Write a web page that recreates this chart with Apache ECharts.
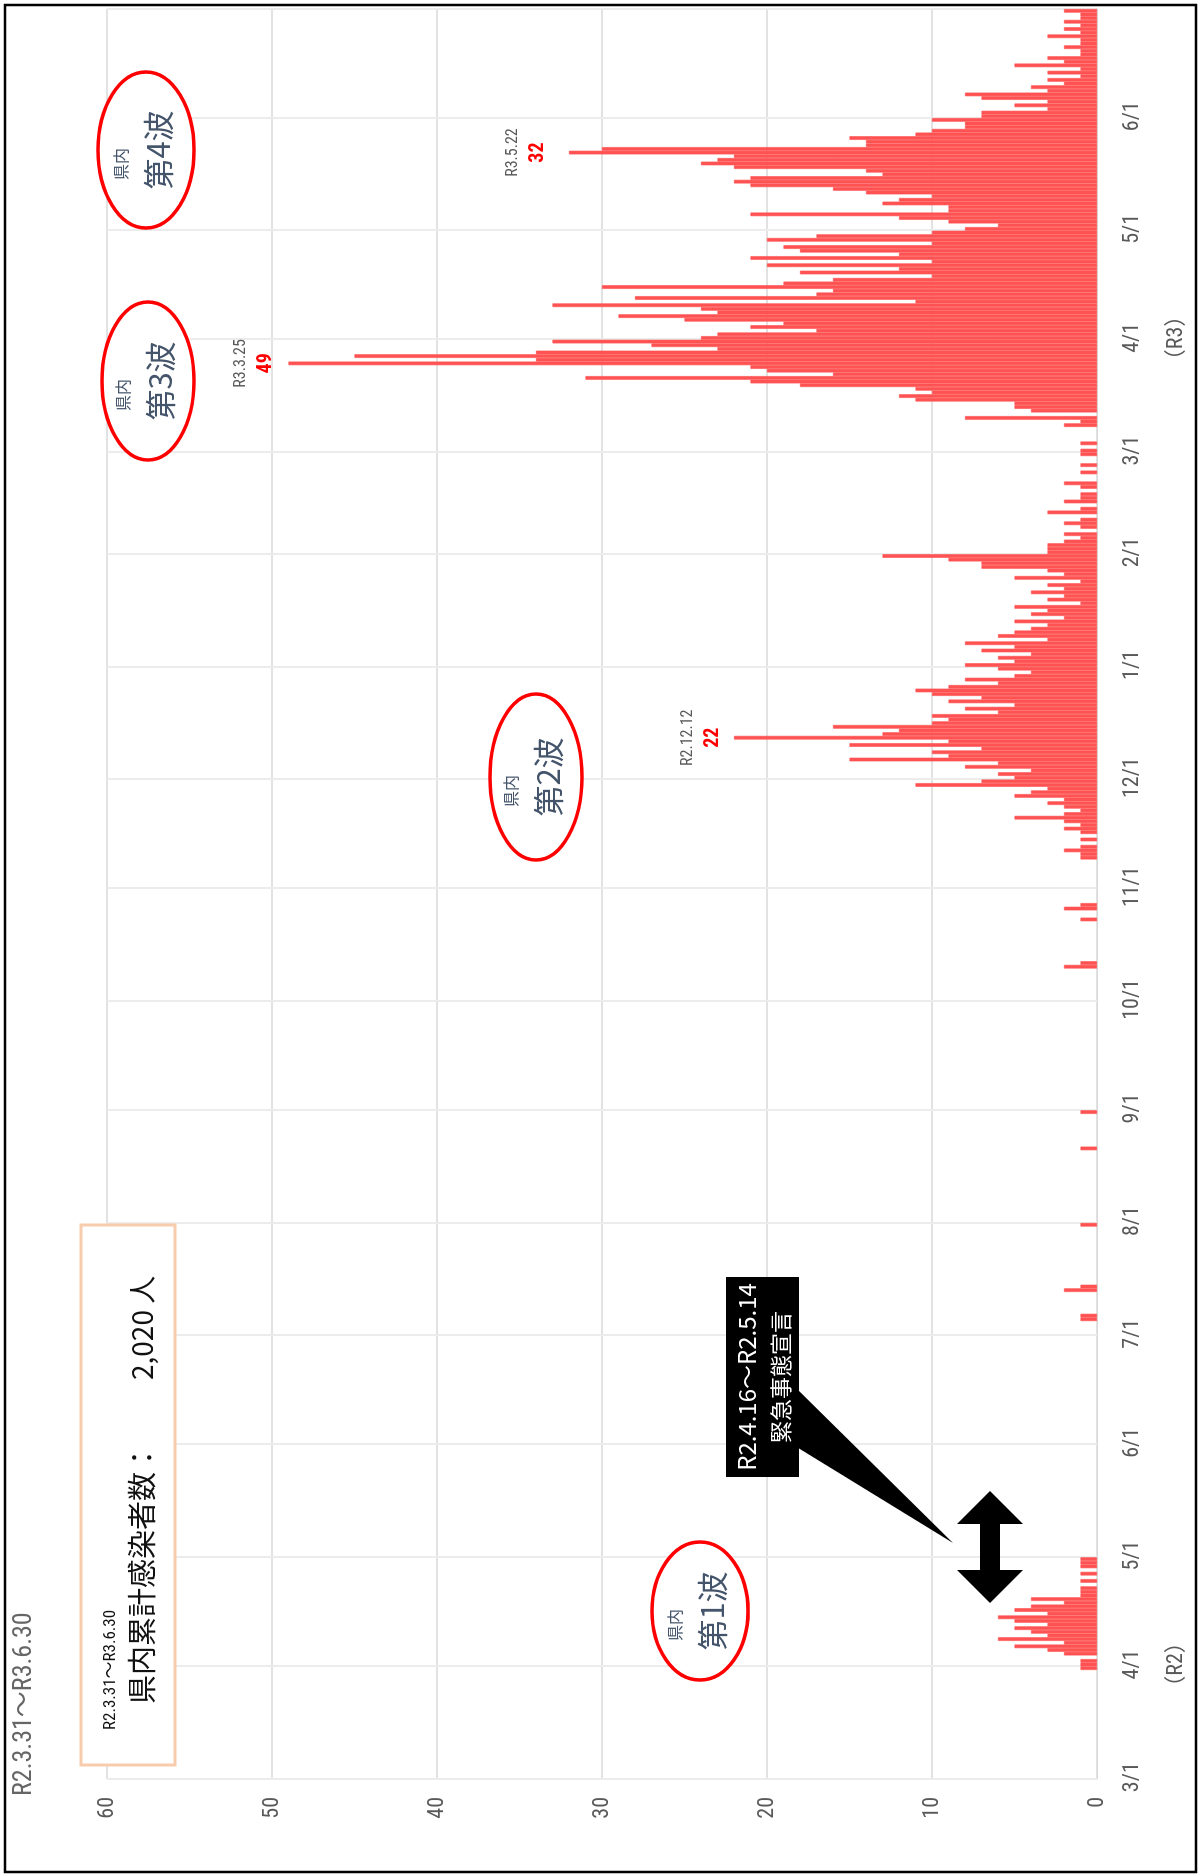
<!DOCTYPE html>
<html><head><meta charset="utf-8">
<script src="https://cdn.jsdelivr.net/npm/echarts/dist/echarts.min.js"></script>
<style>
html,body{margin:0;padding:0;width:1202px;height:1876px;overflow:hidden;background:#fff;}
#chart{position:absolute;left:0;top:0;width:1876px;height:1202px;transform-origin:0 0;transform:translateY(1876px) rotate(-90deg);}
</style></head><body><div id="chart"></div>
<script>
// daily new cases (prefecture), one array per month
const mar20 = [0,0,0,0,0,0,0,0,0,0,0,0,0,0,0,0,0,0,0,0,0,0,0,0,0,0,0,0,0,0,1];
const apr20 = [1,1,0,2,3,5,2,6,3,4,5,3,5,6,3,5,4,2,4,1,1,1,0,1,0,1,0,1,1,1];
const may20 = [0,0,0,0,0,0,0,0,0,0,0,0,0,0,0,0,0,0,0,0,0,0,0,0,0,0,0,0,0,0,0];
const jun20 = [0,0,0,0,0,0,0,0,0,0,0,0,0,0,0,0,0,0,0,0,0,0,0,0,0,0,0,0,0,0];
const jul20 = [0,0,0,0,1,1,0,0,0,0,0,0,2,1,0,0,0,0,0,0,0,0,0,0,0,0,0,0,0,0,1];
const aug20 = [0,0,0,0,0,0,0,0,0,0,0,0,0,0,0,0,0,0,0,0,1,0,0,0,0,0,0,0,0,0,1];
const sep20 = [0,0,0,0,0,0,0,0,0,0,0,0,0,0,0,0,0,0,0,0,0,0,0,0,0,0,0,0,0,0];
const oct20 = [0,0,0,0,0,0,0,0,0,2,1,0,0,0,0,0,0,0,0,0,0,0,1,0,0,2,1,0,0,0,0];
const nov20 = [0,0,0,0,0,0,0,0,1,1,2,1,0,1,0,1,2,1,2,5,2,1,2,3,2,5,4,3,11,7];
const dec20 = [5,6,4,8,6,15,9,10,7,15,9,22,13,12,16,10,9,10,6,8,5,9,7,10,11,9,6,8,5,4,6];
const jan21 = [8,5,6,4,7,5,8,3,6,5,4,3,5,2,4,3,5,1,3,2,4,2,3,1,5,2,3,7,7,9,13];
const feb21 = [3,3,3,2,1,2,0,1,2,1,0,3,1,0,2,1,1,0,1,2,0,0,1,0,1,0,0,1];
const mar21 = [1,0,1,0,0,0,0,2,1,8,0,4,5,5,11,12,10,11,18,21,31,16,20,21,49,34,45,34,23,27,33];
const apr21 = [24,23,17,21,19,25,29,23,24,33,11,28,17,16,30,19,16,10,18,12,20,10,21,12,18,19,10,20,17,10];
const may21 = [8,6,9,12,21,9,9,13,12,10,14,16,21,22,21,13,14,22,24,23,22,32,30,14,14,15,11,10,8,8,10];
const jun21 = [7,7,3,5,3,7,8,3,4,2,3,1,3,1,5,2,3,1,1,2,1,1,3,1,2,1,2,1,1,2];

const monthData = [
  ['2020-03', mar20], ['2020-04', apr20], ['2020-05', may20], ['2020-06', jun20],
  ['2020-07', jul20], ['2020-08', aug20], ['2020-09', sep20], ['2020-10', oct20],
  ['2020-11', nov20], ['2020-12', dec20], ['2021-01', jan21], ['2021-02', feb21],
  ['2021-03', mar21], ['2021-04', apr21], ['2021-05', may21], ['2021-06', jun21]
];

// peak annotations
const peakDates = ['2020-12-12', '2021-03-25', '2021-05-22'];
const peakTexts = ['R2.12.12', 'R3.3.25', 'R3.5.22'];
const peakDist  = [10, 12, 20];

const categories = [];
const values = [];
monthData.forEach(([ym, arr]) => {
  arr.forEach((v, i) => {
    categories.push(ym + '-' + String(i + 1).padStart(2, '0'));
    values.push(v);
  });
});

const NUM_FONT = "'Liberation Sans Narrow','Roboto Condensed','Roboto','Noto Sans CJK JP',sans-serif";
const JP_FONT = "'Noto Sans CJK JP','Noto Sans',sans-serif";
const BAR_COLOR = '#ff5252';

const seriesData = values.map((v, i) => {
  const k = peakDates.indexOf(categories[i]);
  if (v === 0) return { value: 0, itemStyle: { borderWidth: 0 } };
  if (k < 0) return v;
  return {
    value: v,
    label: {
      show: true, position: 'top', distance: peakDist[k],
      formatter: '{d|' + peakTexts[k] + '}\n{v|' + v + '}',
      rich: {
        d: { fontSize: 16, color: '#595959', lineHeight: 28, fontFamily: NUM_FONT, align: 'center' },
        v: { fontSize: 20, color: '#ff0000', fontWeight: 'bold', lineHeight: 22, fontFamily: NUM_FONT, align: 'center' }
      }
    }
  };
});

const isFirst = (i, v) => typeof v === 'string' ? v.endsWith('-01') : categories[i].endsWith('-01');

const chart = echarts.init(document.getElementById('chart'));

function ellipseGroup(cx, cy, rx, ry, n) {
  return [
    { type: 'ellipse', z: 50, shape: { cx: cx, cy: cy, rx: rx, ry: ry },
      style: { fill: '#ffffff', stroke: '#ff0000', lineWidth: 3.5 } },
    { type: 'text', z: 51, x: cx - 14, y: cy - 25,
      style: { text: '県内', fontSize: 16, fontFamily: JP_FONT, fill: '#44546a',
        textAlign: 'center', textVerticalAlign: 'middle', align: 'center', verticalAlign: 'middle' } },
    { type: 'text', z: 51, x: cx, y: cy + 12,
      style: { text: '第' + n + '波', fontSize: 31, fontFamily: JP_FONT, fill: '#44546a',
        textAlign: 'center', textVerticalAlign: 'middle', align: 'center', verticalAlign: 'middle' } }
  ];
}

const graphics = [
  { type: 'rect', z: 100, shape: { x: 4, y: 5, width: 1867, height: 1191 },
    style: { fill: 'none', stroke: '#000', lineWidth: 2.5 } },
  { type: 'text', z: 60, x: 80, y: 24,
    style: { text: 'R2.3.31～R3.6.30', fontSize: 26, fontFamily: NUM_FONT, fill: '#666666',
      textAlign: 'left', textVerticalAlign: 'middle', align: 'left', verticalAlign: 'middle' } },
  // cumulative box
  { type: 'rect', z: 60, shape: { x: 111, y: 81, width: 540, height: 94 },
    style: { fill: '#ffffff', stroke: '#f8cbad', lineWidth: 3 } },
  { type: 'text', z: 61, x: 146, y: 111,
    style: { text: 'R2.3.31～R3.6.30', fontSize: 17, fontFamily: NUM_FONT, fill: '#111',
      textAlign: 'left', textVerticalAlign: 'middle', align: 'left', verticalAlign: 'middle' } },
  { type: 'text', z: 61, x: 172, y: 142,
    style: { text: '県内累計感染者数：', fontSize: 29, fontFamily: JP_FONT, fill: '#111',
      textAlign: 'left', textVerticalAlign: 'middle', align: 'left', verticalAlign: 'middle' } },
  { type: 'text', z: 61, x: 496, y: 142,
    style: { text: '2,020 人', fontSize: 28, fontFamily: JP_FONT, fill: '#111',
      textAlign: 'left', textVerticalAlign: 'middle', align: 'left', verticalAlign: 'middle' } },
  // emergency declaration callout
  { type: 'polygon', z: 60, shape: { points: [[489, 795], [430, 795], [333, 953]] },
    style: { fill: '#000' } },
  { type: 'rect', z: 61, shape: { x: 399, y: 726, width: 200, height: 73 },
    style: { fill: '#000' } },
  { type: 'text', z: 62, x: 499, y: 747,
    style: { text: 'R2.4.16～R2.5.14', fontSize: 24, fontFamily: JP_FONT, fill: '#fff',
      textAlign: 'center', textVerticalAlign: 'middle', align: 'center', verticalAlign: 'middle' } },
  { type: 'text', z: 62, x: 499, y: 781,
    style: { text: '緊急事態宣言', fontSize: 22, fontFamily: JP_FONT, fill: '#fff',
      textAlign: 'center', textVerticalAlign: 'middle', align: 'center', verticalAlign: 'middle' } },
  // double arrow
  { type: 'polygon', z: 60, shape: { points: [[273, 990], [306, 957], [306, 980], [352, 980], [352, 957], [385, 990], [352, 1023], [352, 1000], [306, 1000], [306, 1023]] },
    style: { fill: '#000' } }
].concat(
  ellipseGroup(265, 700, 69, 48, 1),
  ellipseGroup(1099, 536, 83, 46, 2),
  ellipseGroup(1495, 148, 79, 46, 3),
  ellipseGroup(1726, 146, 78, 48, 4)
);

chart.setOption({
  animation: false,
  backgroundColor: '#ffffff',
  grid: { left: 97, right: 9, top: 107, bottom: 105, containLabel: false },
  xAxis: {
    type: 'category', data: categories, boundaryGap: true,
    axisTick: { show: false },
    axisLine: { show: true, lineStyle: { color: '#d9d9d9', width: 1 } },
    axisLabel: {
      interval: isFirst, color: '#595959', fontSize: 22, fontFamily: NUM_FONT,
      lineHeight: 44, margin: 13,
      formatter: (v) => {
        const p = v.split('-');
        let s = (+p[1]) + '/' + (+p[2]);
        if (p[1] === '04') s += '\n（' + (p[0] === '2020' ? 'R2' : 'R3') + '）';
        return s;
      }
    },
    splitLine: { show: true, interval: isFirst, lineStyle: { color: '#ececec', width: 2 } }
  },
  yAxis: {
    type: 'value', min: 0, max: 60, interval: 10,
    axisLine: { show: false }, axisTick: { show: false },
    axisLabel: { color: '#595959', fontSize: 22, fontFamily: NUM_FONT, margin: 18 },
    splitLine: { lineStyle: { color: '#d9d9d9', width: 1.5 } }
  },
  series: [{
    type: 'bar', data: seriesData, barCategoryGap: '0%',
    itemStyle: { color: BAR_COLOR, borderColor: BAR_COLOR, borderWidth: 0.6 }, z: 5
  }],
  graphic: { elements: graphics }
});
</script></body></html>
